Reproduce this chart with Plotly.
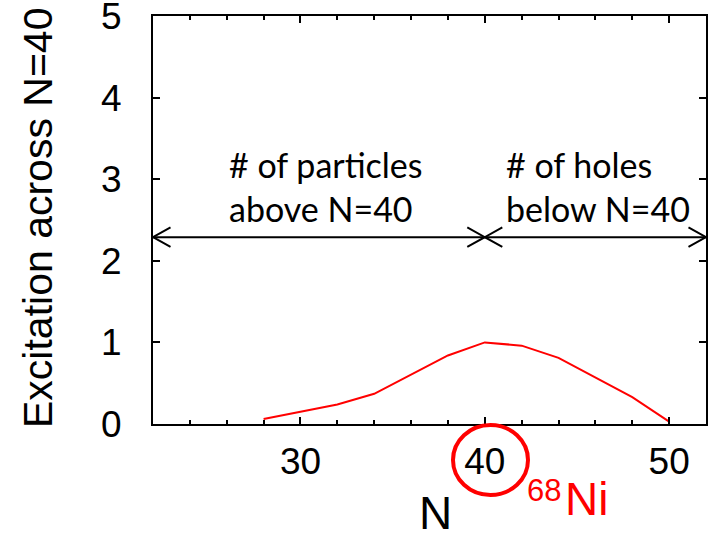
import plotly.graph_objects as go

# Data
N_values = [28, 30, 32, 34, 36, 38, 40, 42, 44, 46, 48, 50]
excitation = [0.06, 0.15, 0.24, 0.37, 0.61, 0.84, 1.0, 0.96, 0.81, 0.57, 0.33, 0.03]
x_range = [22, 52]
y_range = [0, 5]
arrow_y = 2.29
arrow_bounds = [22, 40, 52]
left_label = "# of particles<br>above N=40"
right_label = "# of holes<br>below N=40"
y_title = "Excitation across N=40"
x_title = "N"
mass_number = "68"
element = "Ni"

fig = go.Figure()
fig.add_trace(go.Scatter(x=N_values, y=excitation, mode="lines",
                         line=dict(color="#ff0000", width=2), showlegend=False,
                         hoverinfo="skip", cliponaxis=False))

# arrows (horizontal line + open V heads)
head_dx = 0.95
head_dy = 0.12
line_style = dict(color="black", width=2)
fig.add_shape(type="line", xref="x", yref="y", x0=arrow_bounds[0], x1=arrow_bounds[-1],
              y0=arrow_y, y1=arrow_y, line=line_style)
for i in range(len(arrow_bounds) - 1):
    a, b = arrow_bounds[i], arrow_bounds[i + 1]
    for tip, d in ((a, 1), (b, -1)):
        fig.add_shape(type="path", xref="x", yref="y",
                      path=f"M {tip + d*head_dx},{arrow_y + head_dy} L {tip},{arrow_y} L {tip + d*head_dx},{arrow_y - head_dy}",
                      line=line_style)

W, H = 713, 536
L, R, T, B = 153, 7, 16, 112
pw, ph = W - L - R, H - T - B
PL, PB = L, H - B  # plot area left / bottom in pixels


def px(xs):
    return (xs - PL) / pw


def py(ys):
    return (PB - ys) / ph


fig.add_annotation(text=left_label, x=px(227), y=py(187), xref="paper", yref="paper",
                   xanchor="left", yanchor="middle", align="left", showarrow=False,
                   font=dict(family="Lato", size=34, color="black"))
fig.add_annotation(text=right_label, x=px(504), y=py(187), xref="paper", yref="paper",
                   xanchor="left", yanchor="middle", align="left", showarrow=False,
                   font=dict(family="Lato", size=34, color="black"))

fig.add_annotation(text=y_title, x=px(38), y=py(218), xref="paper", yref="paper",
                   xanchor="center", yanchor="middle", textangle=-90, showarrow=False,
                   font=dict(family="Liberation Sans", size=41, color="black"))
fig.add_annotation(text=x_title, x=px(435), y=py(513), xref="paper", yref="paper",
                   xanchor="center", yanchor="middle", showarrow=False,
                   font=dict(family="Liberation Sans", size=46, color="black"))
fig.add_annotation(text=mass_number, x=px(544), y=py(490), xref="paper", yref="paper",
                   xanchor="center", yanchor="middle", showarrow=False,
                   font=dict(family="Liberation Sans", size=31, color="#ff0000"))
fig.add_annotation(text=element, x=px(586), y=py(499), xref="paper", yref="paper",
                   xanchor="center", yanchor="middle", showarrow=False,
                   font=dict(family="Liberation Sans", size=46, color="#ff0000"))

# red circle around 40
fig.add_shape(type="circle", xref="paper", yref="paper",
              x0=px(453), x1=px(528), y0=py(495), y1=py(425),
              line=dict(color="#ff0000", width=4))

fig.update_xaxes(range=x_range, tick0=30, dtick=10, ticks="inside", ticklen=7, tickwidth=2,
                 tickcolor="black", showline=True, linecolor="black", linewidth=2,
                 mirror="ticks", showgrid=False, zeroline=False, automargin=False,
                 ticklabelstandoff=4, ticklabeloverflow="allow",
                 minor=dict(dtick=2, tick0=30, ticks="inside", ticklen=4, tickwidth=1.5,
                            tickcolor="black", showgrid=False),
                 tickfont=dict(family="Liberation Sans", size=37, color="black"))
fig.update_yaxes(range=y_range, dtick=1, ticks="inside", ticklen=7, tickwidth=2,
                 tickcolor="black", showline=True, linecolor="black", linewidth=2,
                 mirror="ticks", showgrid=False, zeroline=False, automargin=False,
                 ticklabelstandoff=22, ticklabeloverflow="allow",
                 tickfont=dict(family="Liberation Sans", size=37, color="black"))

fig.update_layout(width=W, height=H, margin=dict(l=L, r=R, t=T, b=B),
                  plot_bgcolor="white", paper_bgcolor="white", showlegend=False)

fig.write_html("out.html", config={"displayModeBar": False},
               post_script="document.body.style.margin='0';document.body.style.overflow='hidden';")
